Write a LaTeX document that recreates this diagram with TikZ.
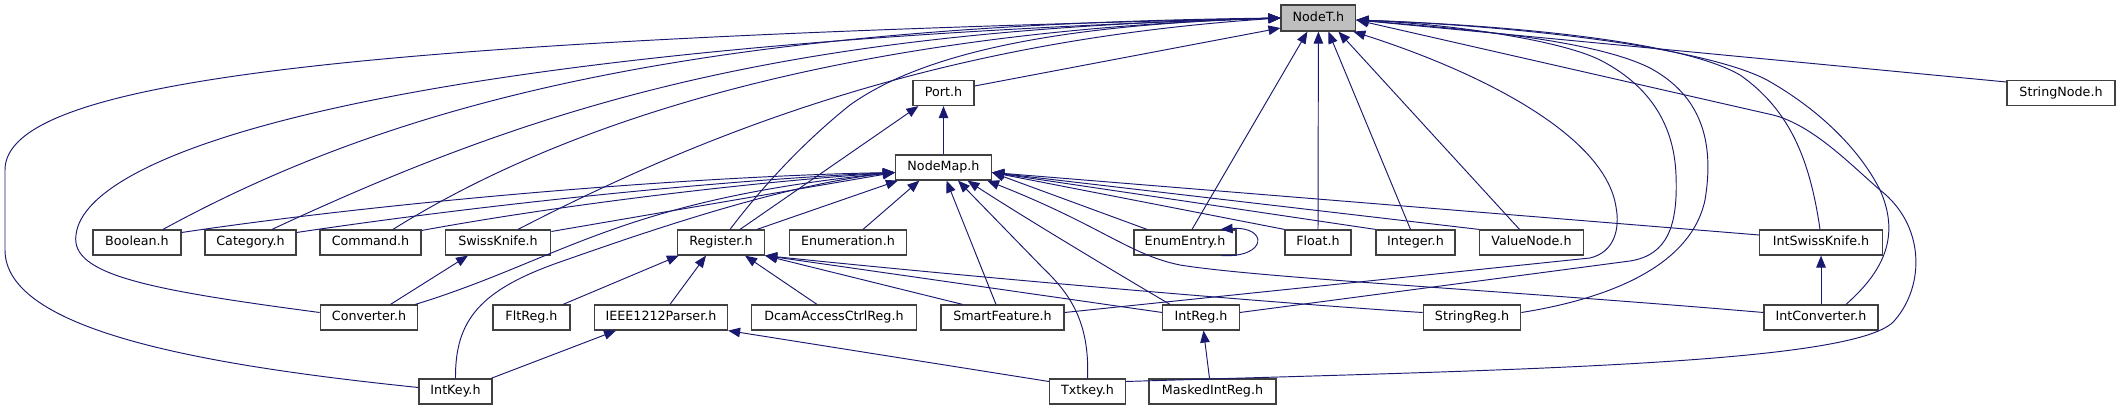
\documentclass[tikz,border=0pt]{standalone}
\usepackage{fontspec}
\setmainfont{DejaVu Sans}
\usetikzlibrary{arrows.meta}
\definecolor{edgeblue}{RGB}{25,25,112}
\definecolor{boxline}{RGB}{64,64,64}
\definecolor{rootfill}{RGB}{191,191,191}
\begin{document}
\begin{tikzpicture}[x=1pt,y=-1pt,
  hdr/.style={draw=boxline, line width=1.2pt, fill=white, minimum height=25pt,
    inner sep=0pt, font=\fontsize{12.7}{14}\selectfont, text height=9.3pt, text depth=2.4pt},
  root/.style={hdr, fill=rootfill, minimum height=26pt},
  dep/.style={draw=edgeblue, line width=0.95pt, -{Triangle[length=12pt,width=9.5pt,fill=edgeblue]}}]
\useasboundingbox (0,0) rectangle (2120,411);
% row 1
\node[root, minimum width=74.7pt] (NodeT) at (1318.4,18) {NodeT.h};
% row 2
\node[hdr, minimum width=61pt] (Port) at (943.5,93) {Port.h};
\node[hdr, minimum width=108pt] (StringNode) at (2061,93) {StringNode.h};
% row 3
\node[hdr, minimum width=96pt] (NodeMap) at (943.5,167.5) {NodeMap.h};
% row 4
\node[hdr, minimum width=88pt] (Boolean) at (137,242.5) {Boolean.h};
\node[hdr, minimum width=91pt] (Category) at (250.5,242.5) {Category.h};
\node[hdr, minimum width=101pt] (Command) at (370.5,242.5) {Command.h};
\node[hdr, minimum width=105.5pt] (SwissKnife) at (498,242.5) {SwissKnife.h};
\node[hdr, minimum width=87pt] (Register) at (721,242.5) {Register.h};
\node[hdr, minimum width=117.7pt] (Enumeration) at (848,242.5) {Enumeration.h};
\node[hdr, minimum width=102pt] (EnumEntry) at (1185,242.5) {EnumEntry.h};
\node[hdr, minimum width=66pt] (Float) at (1318,242.5) {Float.h};
\node[hdr, minimum width=79pt] (Integer) at (1415.5,242.5) {Integer.h};
\node[hdr, minimum width=104pt] (ValueNode) at (1531.5,242.5) {ValueNode.h};
\node[hdr, minimum width=122.5pt] (IntSwissKnife) at (1821,242.5) {IntSwissKnife.h};
% row 5
\node[hdr, minimum width=97.5pt] (Converter) at (369,317.5) {Converter.h};
\node[hdr, minimum width=77pt] (FltReg) at (531.5,317.5) {FltReg.h};
\node[hdr, minimum width=133pt] (IEEE) at (661,317.5) {IEEE1212Parser.h};
\node[hdr, minimum width=164.5pt] (Dcam) at (834,317.5) {DcamAccessCtrlReg.h};
\node[hdr, minimum width=123pt] (SmartFeature) at (1002.5,317.5) {SmartFeature.h};
\node[hdr, minimum width=76.5pt] (IntReg) at (1201,317.5) {IntReg.h};
\node[hdr, minimum width=97.6pt] (StringReg) at (1472,317.5) {StringReg.h};
\node[hdr, minimum width=114pt] (IntConverter) at (1821,317.5) {IntConverter.h};
% row 6
\node[hdr, minimum width=73pt] (IntKey) at (455.5,391.5) {IntKey.h};
\node[hdr, minimum width=76pt] (Txtkey) at (1087.5,391.5) {Txtkey.h};
\node[hdr, minimum width=127pt] (MaskedIntReg) at (1212.5,391.5) {MaskedIntReg.h};

% ---- edges into NodeT.h, left side
\draw[dep] ([yshift=4pt]IntKey.west) .. controls (200,365) and (5,330) .. (5,250) -- (5,170) .. controls (5,80) and (350,40) .. (NodeT.west);
\draw[dep] ([yshift=5pt]Converter.west) .. controls (150,290) and (70,275) .. (76,235) .. controls (85,150) and (400,45) .. (NodeT.west);
\draw[dep] ([xshift=26pt]Boolean.north) .. controls (400,100) and (700,25) .. (NodeT.west);
\draw[dep] ([xshift=21.5pt]Category.north) .. controls (560,95) and (800,30) .. (NodeT.west);
\draw[dep] ([xshift=22.5pt]Command.north) .. controls (600,100) and (900,30) .. (NodeT.west);
\draw[dep] ([xshift=20pt]SwissKnife.north) .. controls (720,125) and (950,40) .. (NodeT.west);
\draw[dep] ([xshift=9pt]Register.north) .. controls (760,190) and (800,145) .. (850,105) .. controls (920,55) and (1050,25) .. (NodeT.west);
\draw[dep] ([yshift=7pt]Port.east) -- ([yshift=-10pt]NodeT.west);
% ---- edges into NodeT.h, bottom
\draw[dep] ([xshift=7pt]EnumEntry.north) -- ([xshift=-11pt]NodeT.south);
\draw[dep] (Float.north) -- (NodeT.south);
\draw[dep] ([xshift=-5pt]Integer.north) -- ([xshift=10pt]NodeT.south);
\draw[dep] ([xshift=-12pt]ValueNode.north) -- ([xshift=20pt]NodeT.south);
% ---- edges into NodeT.h, right side
\draw[dep] ([yshift=5pt]SmartFeature.east) -- (1590,258) .. controls (1615,252) and (1620,228) .. (1616,207) .. controls (1605,135) and (1480,72) .. ([xshift=-3pt]NodeT.south east);
\draw[dep] ([yshift=5pt]IntReg.east) -- (1630,261) .. controls (1668,255) and (1678,225) .. (1676,175) .. controls (1674,120) and (1645,83) .. (1600,60) .. controls (1560,40) and (1450,24) .. ([yshift=-2pt]NodeT.east);
\draw[dep] ([yshift=5pt]StringReg.east) .. controls (1600,300) and (1690,270) .. (1705,200) .. controls (1715,140) and (1700,95) .. (1650,68) .. controls (1590,38) and (1450,28) .. ([yshift=-2pt]NodeT.east);
\draw[dep] ([xshift=-1pt]IntSwissKnife.north) .. controls (1810,160) and (1790,110) .. (1740,75) .. controls (1680,40) and (1500,25) .. ([yshift=-2pt]NodeT.east);
\draw[dep] ([xshift=25pt]IntConverter.north) .. controls (1885,270) and (1900,235) .. (1880,190) .. controls (1860,150) and (1820,110) .. (1767,80) .. controls (1700,45) and (1500,25) .. ([yshift=-2pt]NodeT.east);
\draw[dep] ([yshift=10pt]Txtkey.east) .. controls (1500,370) and (1860,365) .. (1895,320) .. controls (1925,285) and (1925,225) .. (1880,190) .. controls (1852,166) and (1813,125) .. (1773,115) -- ([yshift=-2pt]NodeT.east);
\draw[dep] ([yshift=11pt]StringNode.west) -- ([yshift=-2pt]NodeT.east);

% ---- edges into Port.h
\draw[dep] (NodeMap.north) -- (Port.south);
\draw[dep] ([xshift=19pt]Register.north) -- ([xshift=6pt]Port.south west);

% ---- edges into NodeMap.h
\draw[dep] ([yshift=10pt]Boolean.east) .. controls (400,200) and (700,176) .. ([yshift=-5pt]NodeMap.west);
\draw[dep] ([yshift=10pt]Category.east) .. controls (480,205) and (720,180) .. ([yshift=-5pt]NodeMap.west);
\draw[dep] ([yshift=12pt]Command.east) .. controls (560,205) and (750,182) .. ([yshift=-5pt]NodeMap.west);
\draw[dep] ([yshift=11pt]SwissKnife.east) -- ([yshift=-5pt]NodeMap.west);
\draw[dep] ([xshift=-3pt]Converter.north east) .. controls (560,260) and (620,200) .. ([yshift=-5pt]NodeMap.west);
\draw[dep] (IntKey.north) .. controls (455,320) and (480,290) .. (560,262) .. controls (640,234) and (780,185) .. ([yshift=-5pt]NodeMap.west);
\draw[dep] ([xshift=36pt]Register.north) -- ([xshift=3pt]NodeMap.south west);
\draw[dep] ([xshift=15pt]Enumeration.north) -- ([xshift=24.5pt]NodeMap.south west);
\draw[dep] ([xshift=-6.5pt]SmartFeature.north) -- ([xshift=3pt]NodeMap.south);
\draw[dep] (Txtkey.north) .. controls (1090,320) and (1068,292) .. (1043,268) -- ([xshift=14.5pt]NodeMap.south);
\draw[dep] ([xshift=-31pt]IntReg.north) .. controls (1120,275) and (1020,215) .. ([xshift=24pt]NodeMap.south);
\draw[dep] ([yshift=5pt]IntConverter.west) .. controls (1500,290) and (1260,278) .. (1180,265) .. controls (1130,255) and (1100,225) .. ([xshift=-5pt]NodeMap.south east);
\draw[dep] ([xshift=-38pt]EnumEntry.north) -- ([yshift=-5pt]NodeMap.east);
\draw[dep] (Float.north west) -- ([yshift=-5pt]NodeMap.east);
\draw[dep] (Integer.north west) -- ([yshift=-5pt]NodeMap.east);
\draw[dep] (ValueNode.north west) -- ([yshift=-5pt]NodeMap.east);
\draw[dep] ([yshift=7.5pt]IntSwissKnife.west) -- ([yshift=-5pt]NodeMap.east);

% ---- edges into Register.h
\draw[dep] ([xshift=31.5pt]FltReg.north) -- ([xshift=2pt]Register.south west);
\draw[dep] ([xshift=9pt]IEEE.north) -- ([xshift=-15pt]Register.south);
\draw[dep] ([xshift=-17pt]Dcam.north) -- ([xshift=24pt]Register.south);
\draw[dep] ([xshift=-40pt]SmartFeature.north) -- (Register.south east);
\draw[dep] ([yshift=5pt]IntReg.west) -- (Register.south east);
\draw[dep] ([yshift=5pt]StringReg.west) .. controls (1300,305) and (1000,280) .. (Register.south east);

% ---- other edges
\draw[dep] ([xshift=21.5pt]Converter.north) -- ([xshift=-30pt]SwissKnife.south);
\draw[dep] ([xshift=35.5pt]IntKey.north) -- ([xshift=-45pt]IEEE.south);
\draw[dep] ([yshift=10pt]Txtkey.west) -- (IEEE.south east);
\draw[dep] ([xshift=-3pt]MaskedIntReg.north) -- ([xshift=2.5pt]IntReg.south);
\draw[dep] (IntConverter.north) -- (IntSwissKnife.south);
\draw[dep] ([xshift=-15pt]EnumEntry.south east) .. controls (1268,258) and (1268,226) .. ([xshift=-16pt]EnumEntry.north east);
\end{tikzpicture}
\end{document}
